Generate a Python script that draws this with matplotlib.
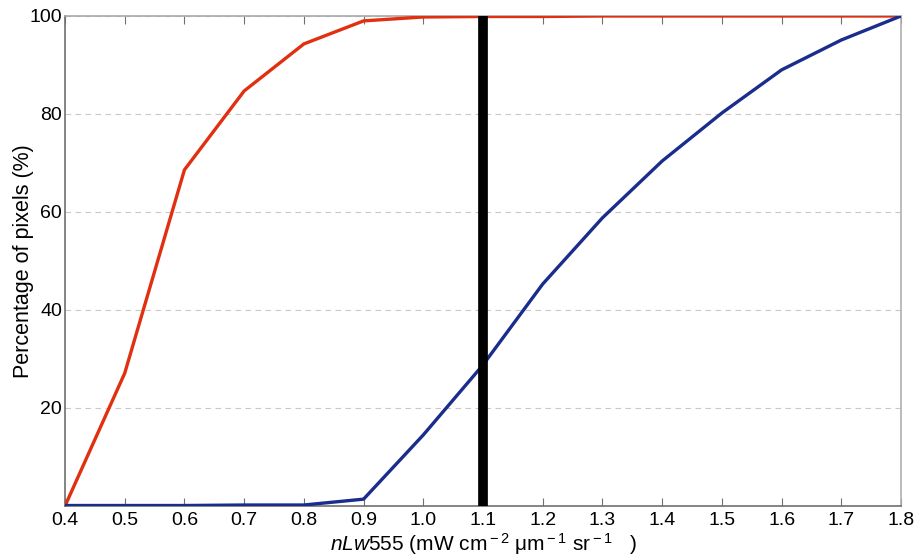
import numpy as np
import matplotlib
matplotlib.use("Agg")
import matplotlib.pyplot as plt

plt.rcParams["font.family"] = ["Liberation Sans", "DejaVu Sans"]
plt.rcParams["mathtext.fontset"] = "custom"
plt.rcParams["mathtext.rm"] = "Liberation Sans"
plt.rcParams["mathtext.it"] = "Liberation Sans:italic"

# nLw555 の値
x = [0.4, 0.5, 0.6, 0.7, 0.8, 0.9, 1.0, 1.1, 1.2, 1.3, 1.4, 1.5, 1.6, 1.7, 1.8]
red = [0, 27.1, 68.6, 84.7, 94.3, 99.0, 99.8, 99.9, 99.9, 100, 100, 100, 100, 100, 100]
blue = [0.1, 0.1, 0.1, 0.2, 0.2, 1.4, 14.5, 28.8, 45.3, 58.8, 70.4, 80.2, 89.0, 95.1, 100]
threshold = 1.1

fig = plt.figure(figsize=(9.15, 5.59), dpi=100)
ax = fig.add_axes([65 / 915, 53 / 559, 836 / 915, 490 / 559])

ax.plot(x, red, color="#e03010", linewidth=2.4, zorder=3)
ax.plot(x, blue, color="#1a2d8c", linewidth=2.4, zorder=3)
ax.plot([threshold, threshold], [0, 100], color="black", linewidth=7, zorder=4)

ax.set_xlim(0.4, 1.8)
ax.set_ylim(0, 100)
ax.set_xticks(np.arange(0.4, 1.81, 0.1))
ax.set_xticklabels([f"{v:.1f}" for v in np.arange(0.4, 1.81, 0.1)])
ax.set_yticks([20, 40, 60, 80, 100])

ax.yaxis.grid(True, linestyle=(0, (5, 4)), color="#c8c8c8", linewidth=0.8)
ax.set_axisbelow(True)

ax.tick_params(axis="both", direction="in", labelsize=14, color="#707070", length=6)
ax.tick_params(axis="x", top=True, pad=4)
ax.tick_params(axis="y", left=False, pad=2)

ax.spines["left"].set_color("#707070")
ax.spines["bottom"].set_color("#707070")
ax.spines["top"].set_color("#a8a8a8")
ax.spines["right"].set_color("#b0b0b0")
for s in ax.spines.values():
    s.set_linewidth(1.2)

ax.set_xlabel(r"$\mathit{nLw}$555 (mW cm$^{\rm -2}$ μm$^{\rm -1}$ sr$^{\rm -1}$   )", fontsize=15)
ax.set_ylabel("Percentage of pixels (%)", fontsize=15.5)
ax.xaxis.set_label_coords(0.5, -0.051)
ax.yaxis.set_label_coords(-0.037, 0.5)

fig.savefig("out.png", dpi=100)
